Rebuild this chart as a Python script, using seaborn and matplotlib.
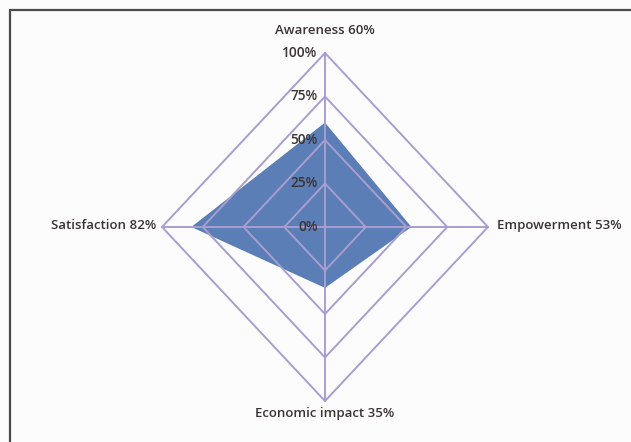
import numpy as np
import matplotlib.pyplot as plt
from matplotlib.lines import Line2D
import seaborn as sns

categories = ["Awareness", "Empowerment", "Economic impact", "Satisfaction"]
values = [60, 53, 35, 82]
ring_levels = [25, 50, 75, 100]
tick_levels = [0, 25, 50, 75, 100]
tick_labels = ["0%", "25%", "50%", "75%", "100%"]

sns.set_style("white")
plt.rcParams["font.family"] = ["Open Sans", "DejaVu Sans"]

text_color = "#3b3434"
grid_color = "#a99ed0"
fill_color = "#5b7eb6"

# clockwise from the top
angles = np.pi / 2 - np.arange(len(categories)) * 2 * np.pi / len(categories)
cos_a = np.cos(angles)
sin_a = np.sin(angles)

fig = plt.figure(figsize=(6.31, 4.42), dpi=100, facecolor="#fcfcfc")
ax = fig.add_axes([0, 0, 1, 1])
ax.set_facecolor("#fcfcfc")
# center at (325, 227) px, 100% = 163 px wide, 174 px tall
ax.set_xlim(-325 / 163, (631 - 325) / 163)
ax.set_ylim(-215 / 174, (442 - 215) / 174)
ax.axis("off")

# data polygon
r = np.array(values) / 100
ax.fill(np.append(r * cos_a, r[0] * cos_a[0]), np.append(r * sin_a, r[0] * sin_a[0]),
        color=fill_color, lw=0, zorder=2)

# polygon grid and spokes
for lvl in ring_levels:
    rr = lvl / 100
    ax.plot(np.append(rr * cos_a, rr * cos_a[0]), np.append(rr * sin_a, rr * sin_a[0]),
            color=grid_color, lw=1.4, zorder=3)
for c, s in zip(cos_a, sin_a):
    ax.plot([0, c], [0, s], color=grid_color, lw=1.4, zorder=3)

# radial tick labels
for lvl, lab in zip(tick_levels, tick_labels):
    ax.text(-0.045, lvl / 100, lab, ha="right", va="center", fontsize=9.8,
            fontweight="semibold", color=text_color, zorder=4)

# category labels
label_pos = [(0, 1.13, "center", "center"), (1.055, 0.01, "left", "center"),
             (0, -1.07, "center", "center"), (-1.035, 0.01, "right", "center")]
for cat, val, (x, y, ha, va) in zip(categories, values, label_pos):
    ax.text(x, y, f"{cat} {val}%", ha=ha, va=va, fontsize=9.5,
            fontweight="semibold", color=text_color, zorder=4)

# frame on left and top
fig.add_artist(Line2D([10 / 631, 10 / 631], [0, 1 - 10 / 442], transform=fig.transFigure,
                      color="#4a4a4a", lw=1.6))
fig.add_artist(Line2D([10 / 631, 1], [1 - 10 / 442, 1 - 10 / 442], transform=fig.transFigure,
                      color="#4a4a4a", lw=1.6))

fig.savefig("out.png", dpi=100, facecolor=fig.get_facecolor())
